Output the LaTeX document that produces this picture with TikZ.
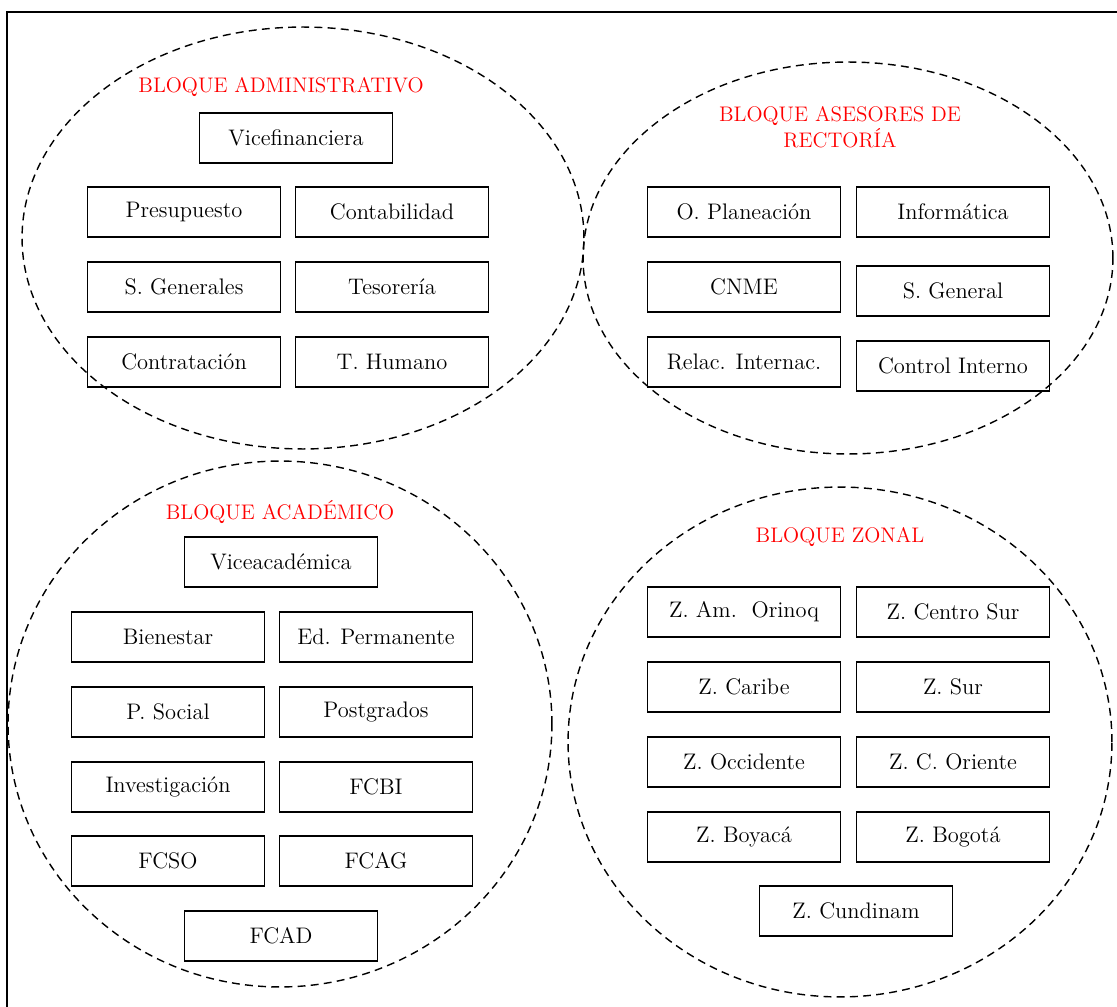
\documentclass[tikz,border=0pt]{standalone}
\usepackage{tikz}
\usetikzlibrary{calc}
\tikzset{
  unidad/.style={draw, line width=0.8pt, minimum width=3.86cm, minimum height=1cm,
    inner sep=0pt, font=\fontsize{12.8}{15}\selectfont},
  bloque/.style={text=red, align=center, font=\fontsize{12}{14.5}\selectfont},
  borde/.style={line width=0.8pt, dash pattern=on 4.5pt off 3pt}
}

\begin{document}
\begin{tikzpicture}[x=0.02cm, y=-0.02cm]
		%%%%% START %%%%%
		\useasboundingbox (0, 0) rectangle (1117, 1007);
		\clip (0, 0) rectangle (1117, 1007);
		
		\draw[line width=1pt] (7, 12) rectangle (1130, 1020);
		
		%% bloque administrativo
		\draw[borde] (303, 238) ellipse [x radius=5.62cm, y radius=4.22cm];
		\node[bloque] (admin) at (281, 87) {BLOQUE ADMINISTRATIVO};
		\node[unidad] (vicefin) at (296, 138) {Vicefinanciera};
		\node[unidad] (presup) at (184, 212) {Presupuesto};
		\node[unidad] (contab) at (392, 212) {Contabilidad};
		\node[unidad] (sgen) at (184, 287) {S. Generales};
		\node[unidad] (tesor) at (392, 287) {Tesorería};
		\node[unidad] (contrat) at (184, 362) {Contratación};
		\node[unidad] (thum) at (392, 362) {T. Humano};
		
		%% bloque asesores
		\draw[borde] (848, 258) ellipse [x radius=5.30cm, y radius=3.92cm];
		\node[bloque] (asesores) at (840, 127) {BLOQUE ASESORES DE\\RECTORÍA};
		\node[unidad] (planea) at (744, 212) {O. Planeación};
		\node[unidad] (inform) at (953, 212) {Informática};
		\node[unidad] (cnme) at (744, 287) {CNME};
		\node[unidad] (sgral) at (953, 291) {S. General};
		\node[unidad] (relac) at (744, 362) {Relac. Internac.};
		\node[unidad] (control) at (953, 366) {Control Interno};
		
		%% bloque academico
		\draw[borde] (280, 724) ellipse [x radius=5.44cm, y radius=5.26cm];
		\node[bloque] (academ) at (280, 512) {BLOQUE ACADÉMICO};
		\node[unidad] (viceac) at (281, 562) {Viceacadémica};
		\node[unidad] (bienes) at (168, 637) {Bienestar};
		\node[unidad] (edperm) at (376, 637) {Ed. Permanente};
		\node[unidad] (psocial) at (168, 712) {P. Social};
		\node[unidad] (postg) at (376, 712) {Postgrados};
		\node[unidad] (invest) at (168, 787) {Investigación};
		\node[unidad] (fcbi) at (376, 787) {FCBI};
		\node[unidad] (fcso) at (168, 861) {FCSO};
		\node[unidad] (fcag) at (376, 861) {FCAG};
		\node[unidad] (fcad) at (281, 936) {FCAD};
		
		%% bloque zonal
		\draw[borde] (840, 742) ellipse [x radius=5.44cm, y radius=5.10cm];
		\node[bloque] (zonal) at (840, 537) {BLOQUE ZONAL};
		\node[unidad] (orinoq) at (744, 612) {Z. Am.\ \ Orinoq};
		\node[unidad] (csur) at (953, 612) {Z. Centro Sur};
		\node[unidad] (caribe) at (744, 687) {Z. Caribe};
		\node[unidad] (sur) at (953, 687) {Z. Sur};
		\node[unidad] (occid) at (744, 762) {Z. Occidente};
		\node[unidad] (coriente) at (953, 762) {Z. C. Oriente};
		\node[unidad] (boyaca) at (744, 837) {Z. Boyacá};
		\node[unidad] (bogota) at (953, 837) {Z. Bogotá};
		\node[unidad] (cundi) at (856, 911) {Z. Cundinam};
		
		%%%%% END %%%%%
\end{tikzpicture}
\end{document}
